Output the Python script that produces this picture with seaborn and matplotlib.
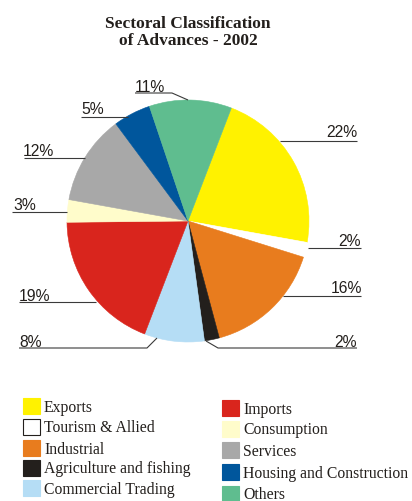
import matplotlib
matplotlib.use("Agg")
import matplotlib.pyplot as plt
import seaborn as sns
from matplotlib.patches import Rectangle

sns.set_theme(style="white")

categories = ["Exports", "Tourism & Allied", "Industrial", "Agriculture and fishing",
              "Commercial Trading", "Imports", "Consumption", "Services",
              "Housing and Construction", "Others"]
values = [22, 2, 16, 2, 8, 19, 3, 12, 5, 11]
labels = ["22%", "2%", "16%", "2%", "8%", "19%", "3%", "12%", "5%", "11%"]
colors = ["#FFF200", "#FFFFFF", "#E87C1E", "#231F1C", "#B5DDF5",
          "#D9251D", "#FFFCCB", "#A8A8A8", "#00569C", "#5FBD8F"]
title_lines = ["Sectoral Classification", "of Advances - 2002"]

W, H = 412, 502
CX, CY, R = 188, 222, 121

fig = plt.figure(figsize=(W / 100, H / 100), dpi=100)
ax = fig.add_axes([0, 0, 1, 1])


def P(px, py):
    return (px - CX) / R, (CY - py) / R


wedges, _ = ax.pie(values, colors=colors, startangle=69, counterclock=False,
                   radius=1.0, center=(0, 0), frame=True,
                   wedgeprops=dict(linewidth=0))
for w, c in zip(wedges, colors):
    w.set_edgecolor(c)
    w.set_linewidth(0.4)
ax.set_xlim(-CX / R, (W - CX) / R)
ax.set_ylim(-(H - CY) / R, CY / R)
ax.set_aspect("equal")
ax.axis("off")

# leader line layout (pixel paths) and label anchor (end, baseline)
leaders = [
    ([(280, 142), (357, 142)], (357, 137), "right"),
    ([(308, 249), (361, 249)], (361, 246), "right"),
    ([(283, 297), (361, 297)], (362, 293), "right"),
    ([(206, 342), (218, 349), (357, 349)], (357, 347), "right"),
    ([(157, 339), (147, 349), (19, 349)], (19, 347), "left"),
    ([(96, 303), (19, 303)], (19, 301), "left"),
    ([(67, 213), (12, 213)], (13, 210), "left"),
    ([(85, 159), (24, 159)], (23, 156), "left"),
    ([(128, 118), (81, 118)], (81, 114), "left"),
    ([(188, 101), (172, 94), (135, 94)], (135, 92), "left"),
]
for lab, (path, tpos, ha) in zip(labels, leaders):
    xs, ys = zip(*[P(*p) for p in path])
    ax.plot(xs, ys, color="#3a3a3a", lw=0.8, solid_capstyle="butt")
    ax.text(*P(*tpos), lab, ha=ha, va="baseline", fontsize=11.3,
            family="Liberation Sans", color="#231F1C")

for line, base in zip(title_lines, [28, 45]):
    ax.text(*P(188, base), line, ha="center", va="baseline",
            fontsize=12.5, fontweight="bold", family="Liberation Serif",
            color="#231F1C")

# legend
left_tops = [399, 420, 441, 461, 481]
right_tops = [401, 422, 443, 465, 487]
sw, sh = 17, 16
for i, (cat, col) in enumerate(zip(categories, colors)):
    if i < 5:
        x0, y0 = 23, left_tops[i]
    else:
        x0, y0 = 222, right_tops[i - 5]
    bx, by = P(x0, y0 + sh)
    ec = "#231F1C" if col == "#FFFFFF" else col
    ax.add_patch(Rectangle((bx, by), sw / R, sh / R, facecolor=col,
                           edgecolor=ec, lw=0.8))
    ax.text(*P(x0 + 21, y0 + 12.5), cat, ha="left", va="baseline",
            fontsize=11.3, family="Liberation Serif", color="#231F1C")

fig.savefig("out.png", dpi=100)
